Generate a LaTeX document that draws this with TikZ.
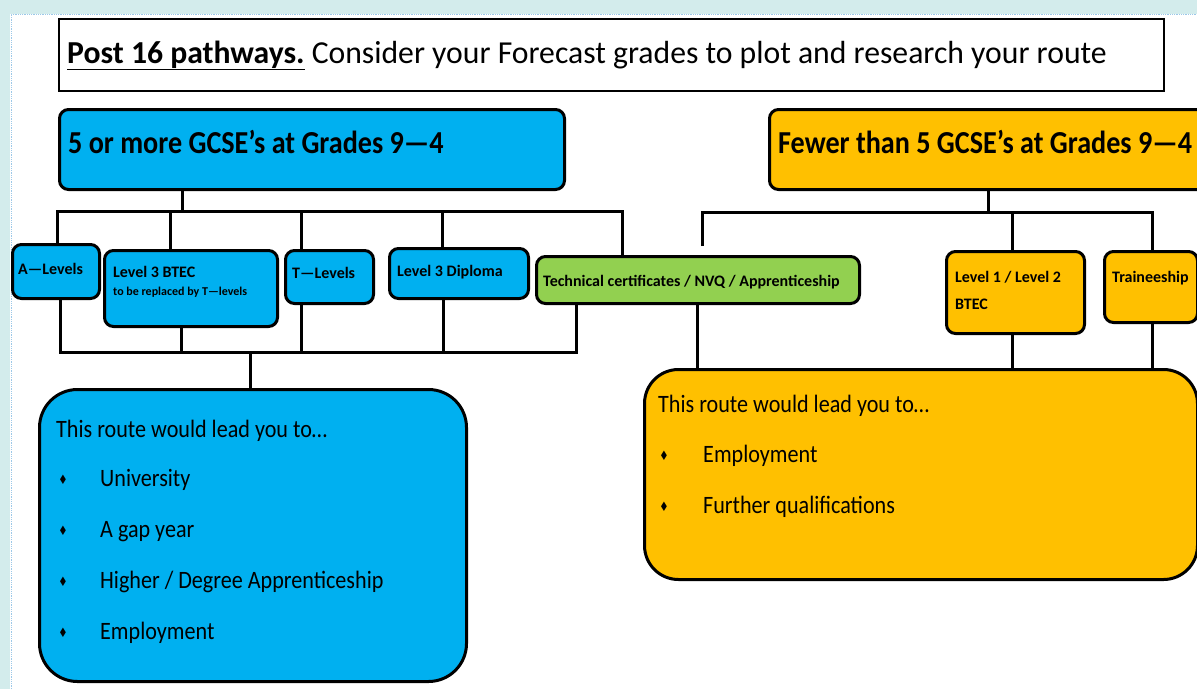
\documentclass[tikz,border=0pt]{standalone}
\usepackage{fontspec}
\setmainfont{Carlito}
\newfontfamily\condA[FakeStretch=0.88]{Carlito}
\newfontfamily\condB[FakeStretch=0.885]{Carlito}
\newfontfamily\condT[FakeStretch=0.99]{Carlito}
\newfontfamily\symfont[FakeStretch=0.8]{DejaVu Sans}
\definecolor{cblue}{HTML}{00B0F0}
\definecolor{corange}{HTML}{FFC000}
\definecolor{cgreen}{HTML}{92D050}
\definecolor{cteal}{HTML}{D3ECEC}
\definecolor{cdot}{HTML}{9CC8E8}
\begin{document}
\begin{tikzpicture}[x=1pt,y=-1pt,
  box/.style={draw=black, line width=3pt, rounded corners=9pt, inner sep=0pt, anchor=north west},
  big/.style={box, rounded corners=38pt},
  conn/.style={draw=black, line width=3pt},
  lbl/.style={anchor=base west, inner sep=0pt},
  small/.style={lbl, font=\fontsize{16}{18}\selectfont\bfseries},
  head/.style={lbl, font=\condA\fontsize{32}{36}\selectfont\bfseries},
  route/.style={lbl, font=\condB\fontsize{25}{28}\selectfont},
  bul/.style={anchor=center, inner sep=0pt, font=\symfont\fontsize{13}{14}\selectfont}]
\useasboundingbox (0,0) rectangle (1197,689);
\fill[white] (0,0) rectangle (1197,689);
% background strips
\fill[cteal] (0,0) rectangle (1197,14);
\fill[cteal] (0,0) rectangle (10,689);
\draw[cdot, densely dotted, line width=0.8pt] (11,689) -- (11,14) -- (1197,14);
% title
\node[draw=black, line width=2pt, anchor=north west, minimum width=1105pt, minimum height=72pt, inner sep=0pt] (title) at (58,18) {};
\node[lbl, font=\condT\fontsize{32}{36}\selectfont] (titletxt) at (67,63) {\textbf{\underline{Post 16 pathways.}} Consider your Forecast grades to plot and research your route};
% headers
\node[box, fill=cblue, minimum width=505pt, minimum height=80pt] (bh) at (58,108) {};
\node[head] (bht) at (68,153) {5 or more GCSE’s at Grades 9—4};
\node[box, fill=corange, minimum width=450pt, minimum height=80pt] (oh) at (768,108) {};
\node[head] (oht) at (778,153) {Fewer than 5 GCSE’s at Grades 9—4};
% small boxes left
\node[box, fill=cblue, minimum width=87pt, minimum height=54pt] (al) at (11,243) {};
\node[small] (alt) at (18,274) {A—Levels};
\node[box, fill=cblue, minimum width=173pt, minimum height=76pt] (bt) at (103,249) {};
\node[small] (btt) at (113,277) {Level 3 BTEC};
\node[lbl, font=\fontsize{12}{14}\selectfont\bfseries] (btt2) at (113,295) {to be replaced by T—levels};
\node[box, fill=cblue, minimum width=88pt, minimum height=53pt] (tl) at (284,249) {};
\node[small] (tlt) at (292,278) {T—Levels};
\node[box, fill=cblue, minimum width=139pt, minimum height=50pt] (dp) at (388,247) {};
\node[small] (dpt) at (397,276) {Level 3 Diploma};
\node[box, fill=cgreen, minimum width=323pt, minimum height=47pt] (gr) at (535,255) {};
\node[small] (grt) at (543,286) {Technical certificates / NVQ / Apprenticeship};
% small boxes right
\node[box, fill=corange, minimum width=138pt, minimum height=82pt] (l12) at (945,250) {};
\node[small] (l12t) at (955,282) {Level 1 / Level 2};
\node[small] (l12t2) at (955,309) {BTEC};
\node[box, fill=corange, minimum width=93pt, minimum height=71pt] (tr) at (1103,250) {};
\node[small] (trt) at (1112,282) {Traineeship};
% route boxes
\node[big, fill=cblue, minimum width=427pt, minimum height=292pt] (rb) at (38,388) {};
\node[route] (rbt) at (56,437) {This route would lead you to…};
\node[bul] (b1) at (63,480) {♦};
\node[route] (i1) at (100,486) {University};
\node[bul] (b2) at (63,531) {♦};
\node[route] (i2) at (100,537) {A gap year};
\node[bul] (b3) at (63,582) {♦};
\node[route] (i3) at (100,588) {Higher / Degree Apprenticeship};
\node[bul] (b4) at (63,633) {♦};
\node[route] (i4) at (100,639) {Employment};
\node[big, fill=corange, rounded corners=34pt, minimum width=553pt, minimum height=210pt] (ro) at (643,368) {};
\node[route] (rot) at (658,412) {This route would lead you to…};
\node[bul] (b5) at (664,456) {♦};
\node[route] (i5) at (703,462) {Employment};
\node[bul] (b6) at (664,507) {♦};
\node[route] (i6) at (703,513) {Further qualifications};
% junctions
\coordinate (jl) at (182,211);
\coordinate (jr) at (988,212);
\coordinate (jb) at (250,352);
% left upper tree
\draw[conn] (bh.south -| jl) -- (jl);
\draw[conn] (al.north -| 57,0) |- (jl) -| (gr.north -| 622,0);
\draw[conn] (jl -| 170,0) -- (bt.north -| 170,0);
\draw[conn] (jl -| 301,0) -- (tl.north -| 301,0);
\draw[conn] (jl -| 442,0) -- (dp.north -| 442,0);
% left lower tree
\draw[conn] (al.south -| 60,0) |- (jb) -| (gr.south -| 576,0);
\draw[conn] (bt.south -| 181,0) -- (jb -| 181,0);
\draw[conn] (tl.south -| 301,0) -- (jb -| 301,0);
\draw[conn] (dp.south -| 443,0) -- (jb -| 443,0);
\draw[conn] (jb) -- (rb.north -| jb);
% right upper tree
\coordinate (free) at (702,246);
\draw[conn] (oh.south -| jr) -- (jr);
\draw[conn] (free) |- (jr) -| (tr.north -| 1152,0);
\draw[conn] (jr -| 1012,0) -- (l12.north -| 1012,0);
% right lower
\draw[conn] (gr.south -| 697,0) -- (ro.north -| 697,0);
\draw[conn] (l12.south -| 1012,0) -- (ro.north -| 1012,0);
\draw[conn] (tr.south -| 1152,0) -- (ro.north -| 1152,0);
\end{tikzpicture}
\end{document}
